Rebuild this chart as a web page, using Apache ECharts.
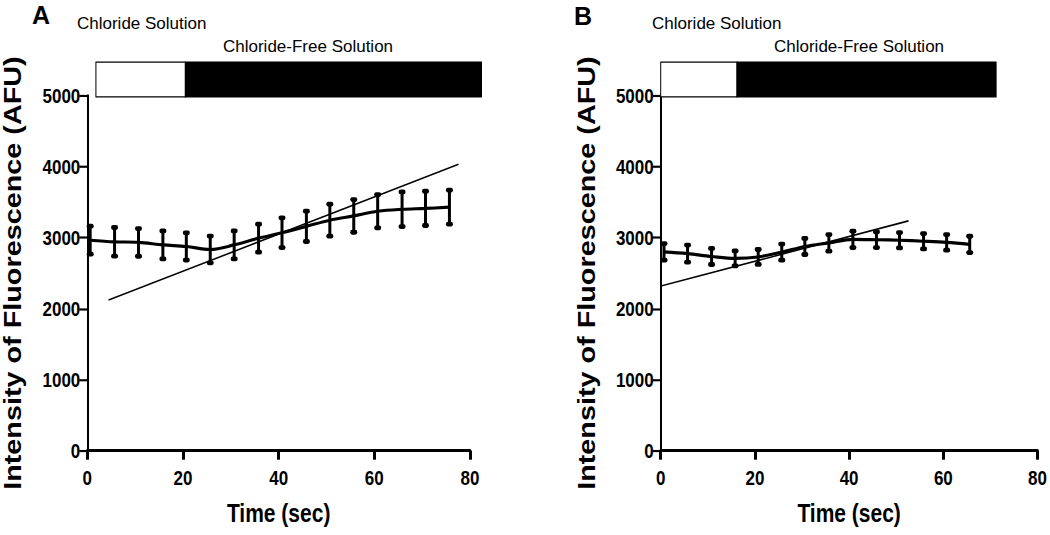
<!DOCTYPE html>
<html>
<head>
<meta charset="utf-8">
<script src="https://cdn.jsdelivr.net/npm/echarts@6/dist/echarts.min.js"></script>
<style>
html,body{margin:0;padding:0;background:#fff;overflow:hidden;}
#wrap{width:1050px;height:535px;overflow:hidden;position:relative;}
#chart{width:1050px;height:446px;transform:scaleY(1.19955);transform-origin:0 0;}
</style>
</head>
<body>
<div id="wrap"><div id="chart"></div></div>
<script>
// ---- Data ----
const timeA = [0.6, 5.7, 10.7, 15.8, 20.7, 25.7, 30.7, 35.8, 40.7, 45.8, 50.7, 55.7, 60.7, 65.8, 70.7, 75.7];
const meanA = [2963, 2940, 2932, 2897, 2875, 2833, 2897, 2992, 3069, 3158, 3245, 3305, 3371, 3399, 3411, 3428];
const errA  = [197, 202, 195, 197, 192, 188, 197, 197, 209, 213, 225, 230, 234, 244, 241, 239];
const trendA = [[4.45, 2120], [77.6, 4032]];

const timeB = [0.7, 5.7, 10.8, 15.8, 20.7, 25.7, 30.6, 35.7, 40.8, 45.8, 50.7, 55.8, 60.7, 65.6];
const meanB = [2799, 2774, 2734, 2707, 2727, 2795, 2875, 2925, 2975, 2970, 2963, 2949, 2932, 2904];
const errB  = [117, 120, 113, 105, 105, 113, 113, 117, 115, 110, 108, 108, 110, 115];
const trendB = [[-1.9, 2284], [52.6, 3235]];

// solution bar: [start, switch to chloride-free, end] in seconds
const phaseA = [1.8, 20.5, 82.4];
const phaseB = [0, 16.2, 71.2];
const phaseBand = [4980, 5470]; // vertical extent in AFU

const xTicks = [0, 20, 40, 60, 80];
const yTicks = [0, 1000, 2000, 3000, 4000, 5000];

const panelLabels = ['A', 'B'];
const solutionLabels = ['Chloride Solution', 'Chloride-Free Solution'];
const xTitle = 'Time (sec)';
const yTitle = 'Intensity of Fluorescence (AFU)';

// ---- Chart ----
// The plot is drawn in a 446px-tall box and stretched vertically to 535px (as in the original figure).
const S = 535 / 446;
const chart = echarts.init(document.getElementById('chart'), null, {renderer: 'svg'});
const font = "'Liberation Sans', Arial, sans-serif";

function pairs(xs, ys) { return xs.map((x, i) => [x, ys[i]]); }
function triples(xs, ys, es) { return xs.map((x, i) => [x, ys[i], es[i]]); }

function errRender(params, api) {
  const x = api.value(0), m = api.value(1), e = api.value(2);
  const top = api.coord([x, m + e]);
  const bot = api.coord([x, m - e]);
  const cw = 7, ch = 4;
  return {
    type: 'group',
    children: [
      {type: 'line', shape: {x1: top[0], y1: top[1], x2: bot[0], y2: bot[1]}, style: {stroke: '#000', lineWidth: 3}},
      {type: 'rect', shape: {x: top[0] - cw / 2, y: top[1] - ch / 2, width: cw, height: ch, r: 2}, style: {fill: '#000'}},
      {type: 'rect', shape: {x: bot[0] - cw / 2, y: bot[1] - ch / 2, width: cw, height: ch, r: 2}, style: {fill: '#000'}}
    ]
  };
}

function phaseRender(params, api) {
  const s = api.value(0), w = api.value(1), e = api.value(2), y0 = api.value(3), y1 = api.value(4);
  const a = api.coord([s, y1]);
  const b = api.coord([w, y0]);
  const c = api.coord([e, y0]);
  return {
    type: 'group',
    children: [
      {type: 'rect', shape: {x: a[0], y: a[1], width: b[0] - a[0], height: b[1] - a[1]}, style: {fill: '#fff', stroke: '#000', lineWidth: 1}},
      {type: 'rect', shape: {x: b[0], y: a[1], width: c[0] - b[0], height: c[1] - a[1]}, style: {fill: '#000', stroke: '#000', lineWidth: 1}}
    ]
  };
}

function xAxisCfg(gridIndex) {
  return {
    gridIndex, type: 'value', min: xTicks[0], max: xTicks[xTicks.length - 1], interval: xTicks[1] - xTicks[0],
    name: xTitle, nameLocation: 'middle', nameGap: 42,
    nameTextStyle: {fontFamily: font, fontWeight: 'bold', fontSize: 21, color: '#000'},
    axisLine: {show: true, lineStyle: {color: '#000', width: 2.5}},
    axisTick: {show: true, inside: false, length: 7.5, lineStyle: {color: '#000', width: 3}},
    axisLabel: {margin: 14, fontFamily: font, fontWeight: 'bold', fontSize: 17, color: '#000'},
    splitLine: {show: false}
  };
}
function yAxisCfg(gridIndex) {
  return {
    gridIndex, type: 'value', min: yTicks[0], max: yTicks[yTicks.length - 1], interval: yTicks[1] - yTicks[0],
    name: yTitle, nameLocation: 'middle', nameGap: 62, nameRotate: 90,
    nameTextStyle: {fontFamily: font, fontWeight: 'bold', fontSize: 24, color: '#000'},
    axisLine: {show: true, lineStyle: {color: '#000', width: 2}},
    axisTick: {show: true, inside: false, length: 8, lineStyle: {color: '#000', width: 1.8}},
    axisLabel: {margin: 7, fontFamily: font, fontWeight: 'bold', fontSize: 17, color: '#000',
                formatter: v => String(v)},
    splitLine: {show: false}
  };
}

function panelSeries(idx, t, m, e, trend, phase) {
  return [
    {type: 'custom', xAxisIndex: idx, yAxisIndex: idx, clip: false, silent: true, z: 1,
     renderItem: phaseRender, data: [[phase[0], phase[1], phase[2], phaseBand[0], phaseBand[1]]]},
    {type: 'line', xAxisIndex: idx, yAxisIndex: idx, data: pairs(t, m), smooth: 0.35, showSymbol: false, symbol: 'none',
     lineStyle: {color: '#000', width: 2.6}, z: 3, silent: true},
    {type: 'custom', xAxisIndex: idx, yAxisIndex: idx, renderItem: errRender, data: triples(t, m, e), clip: false, z: 4, silent: true},
    {type: 'line', xAxisIndex: idx, yAxisIndex: idx, data: trend, showSymbol: false, symbol: 'none', clip: false,
     lineStyle: {color: '#000', width: 1.3}, z: 5, silent: true}
  ];
}

// text overlay that cancels the vertical stretch; positions given in final pixels
function label(text, x, yScreen, fontSpec) {
  return {type: 'text', x: x, y: yScreen / S, scaleY: 1 / S, z: 10,
          style: {text: text, font: fontSpec, fill: '#000', verticalAlign: 'top', align: 'left'}};
}
const solFont = "17px 'Liberation Sans', Arial, sans-serif";
const panelFont = "bold 25px 'Liberation Sans', Arial, sans-serif";

const option = {
  backgroundColor: '#fff',
  animation: false,
  grid: [
    {left: 87.3, right: 580, top: 95.5 / S, bottom: 446 - 450.7 / S},
    {left: 660.7, right: 10, top: 95.5 / S, bottom: 446 - 450.7 / S}
  ],
  xAxis: [xAxisCfg(0), xAxisCfg(1)],
  yAxis: [yAxisCfg(0), yAxisCfg(1)],
  series: [].concat(
    panelSeries(0, timeA, meanA, errA, trendA, phaseA),
    panelSeries(1, timeB, meanB, errB, trendB, phaseB)
  ),
  graphic: [
    label(panelLabels[0], 32, 2, panelFont),
    label(panelLabels[1], 574, 3, panelFont),
    label(solutionLabels[0], 77, 15, solFont),
    label(solutionLabels[1], 223, 38, solFont),
    label(solutionLabels[0], 652, 15, solFont),
    label(solutionLabels[1], 774, 38, solFont)
  ]
};
chart.setOption(option);
</script>
</body>
</html>
